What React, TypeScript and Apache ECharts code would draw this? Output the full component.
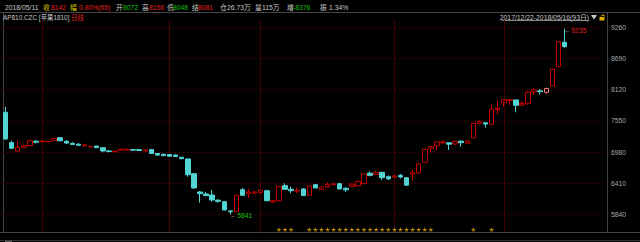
import React, { useEffect, useRef } from 'react';
import * as echarts from 'echarts';

// ---------- data ----------
const dates = [
  '2017/12/22', '2017/12/25', '2017/12/26', '2017/12/27', '2017/12/28', '2017/12/29',
  '2018/01/02', '2018/01/03', '2018/01/04', '2018/01/05', '2018/01/08', '2018/01/09', '2018/01/10',
  '2018/01/11', '2018/01/12', '2018/01/15', '2018/01/16', '2018/01/17', '2018/01/18', '2018/01/19',
  '2018/01/22', '2018/01/23', '2018/01/24', '2018/01/25', '2018/01/26', '2018/01/29', '2018/01/30',
  '2018/02/01', '2018/02/02', '2018/02/05', '2018/02/06', '2018/02/07', '2018/02/08', '2018/02/09',
  '2018/02/12', '2018/02/13', '2018/02/14', '2018/02/22', '2018/02/23', '2018/02/26', '2018/02/27',
  '2018/02/28',
  '2018/03/01', '2018/03/02', '2018/03/05', '2018/03/06', '2018/03/07', '2018/03/08', '2018/03/09',
  '2018/03/12', '2018/03/13', '2018/03/14', '2018/03/15', '2018/03/16', '2018/03/19', '2018/03/20',
  '2018/03/21', '2018/03/22', '2018/03/23', '2018/03/26', '2018/03/27', '2018/03/28', '2018/03/29',
  '2018/03/30',
  '2018/04/02', '2018/04/03', '2018/04/04', '2018/04/09', '2018/04/10', '2018/04/11', '2018/04/12',
  '2018/04/13', '2018/04/16', '2018/04/17', '2018/04/18', '2018/04/19', '2018/04/20', '2018/04/23',
  '2018/04/24', '2018/04/25', '2018/04/26', '2018/04/27',
  '2018/05/02', '2018/05/03', '2018/05/04', '2018/05/07', '2018/05/08', '2018/05/09', '2018/05/10',
  '2018/05/11', '2018/05/14', '2018/05/15', '2018/05/16',
];

const opens = [
  7707, 7152, 7000, 7068, 7097, 7178, 7170, 7168, 7188, 7243,
  7176, 7140, 7125, 7095, 7075, 7090, 7060, 7000, 6985, 7015,
  7020, 7025, 7025, 7000, 7025, 6955, 6940, 6935, 6925, 6885,
  6854, 6585, 6251, 6215, 6196, 6100, 6074, 5905, 5891, 6293,
  6222, 6230, 6240, 6275, 6070, 6092, 6366, 6300, 6270, 6306,
  6191, 6385, 6300, 6340, 6385, 6403, 6318, 6355, 6365, 6403,
  6595, 6570, 6610, 6530, 6520, 6555, 6512, 6575, 6598, 6794,
  7050, 7097, 7150, 7150, 7128, 7180, 7140, 7238, 7505, 7515,
  7488, 7755, 7890, 7920, 7932, 7840, 7871, 8080, 8100, 8072,
  8188, 8540, 8986,
];
const closes = [
  7219, 7049, 7068, 7097, 7188, 7160, 7180, 7175, 7232, 7188,
  7145, 7120, 7105, 7110, 7085, 7060, 7000, 6990, 6995, 7030,
  7030, 7015, 7010, 7020, 6955, 6925, 6915, 6905, 6900, 6860,
  6567, 6324, 6220, 6185, 6105, 6080, 5922, 5890, 6191, 6191,
  6251, 6250, 6285, 6092, 6090, 6348, 6300, 6275, 6280, 6185,
  6360, 6325, 6340, 6390, 6400, 6306, 6290, 6395, 6440, 6580,
  6555, 6610, 6512, 6490, 6545, 6525, 6375, 6600, 6762, 7031,
  7080, 7164, 7165, 7125, 7175, 7152, 7180, 7506, 7540, 7492,
  7762, 7780, 7937, 7937, 7835, 7870, 8072, 8115, 8085, 8142,
  8493, 8997, 8906,
];
const lows = [
  7210, 7040, 6995, 7060, 7090, 7140, 7165, 7160, 7180, 7180,
  7130, 7110, 7090, 7085, 7070, 7055, 6976, 6975, 6980, 7010,
  7010, 7010, 7005, 6995, 6950, 6915, 6905, 6895, 6890, 6850,
  6530, 6315, 6056, 6175, 6075, 6056, 5915, 5841, 5885, 6185,
  6140, 6220, 6235, 6080, 6050, 6085, 6295, 6228, 6230, 6180,
  6185, 6320, 6290, 6330, 6375, 6300, 6250, 6345, 6355, 6395,
  6535, 6560, 6470, 6470, 6510, 6500, 6365, 6457, 6590, 6785,
  6976, 7013, 7130, 7018, 7110, 7078, 7130, 7230, 7490, 7426,
  7480, 7671, 7804, 7840, 7707, 7820, 7840, 8023, 8029, 8048,
  8180, 8535, 8887,
];
const highs = [
  7804, 7188, 7195, 7110, 7195, 7195, 7195, 7180, 7240, 7250,
  7195, 7160, 7140, 7115, 7090, 7095, 7065, 7020, 7000, 7040,
  7045, 7030, 7030, 7025, 7030, 6960, 6950, 6940, 6940, 6890,
  6860, 6590, 6269, 6255, 6287, 6123, 6085, 5920, 6200, 6323,
  6310, 6270, 6290, 6290, 6095, 6355, 6410, 6348, 6335, 6320,
  6370, 6395, 6345, 6428, 6420, 6410, 6335, 6410, 6460, 6590,
  6625, 6635, 6620, 6555, 6560, 6580, 6520, 6660, 6770, 7040,
  7085, 7170, 7200, 7155, 7195, 7190, 7200, 7515, 7560, 7520,
  7853, 7919, 7945, 7945, 7940, 7913, 8090, 8157, 8130, 8156,
  8500, 9005, 9235,
];

const yTicks = [5840, 6410, 6980, 7550, 8120, 8690, 9260];
const monthStarts = ['2018/01/02', '2018/02/01', '2018/03/01', '2018/04/02', '2018/05/02'];
const starDates = [
  '2018/03/06', '2018/03/07', '2018/03/08',
  '2018/03/13', '2018/03/14', '2018/03/15', '2018/03/16', '2018/03/19', '2018/03/20', '2018/03/21',
  '2018/03/22', '2018/03/23', '2018/03/26', '2018/03/27', '2018/03/28', '2018/03/29', '2018/03/30',
  '2018/04/02', '2018/04/03', '2018/04/04', '2018/04/09', '2018/04/10', '2018/04/11', '2018/04/12',
  '2018/04/23', '2018/04/26',
];

const selectedDate = '2018/05/11';
const settlePrice = '8081';
const changeText = '0.80%(65)';
const openInterest = '26.73万';
const volumeText = '115万';
const oiChange = '-8376';
const amplitude = '1.34%';
const symbolText = 'AP810.CZC [苹果1810]';
const periodText = '日线';
const rangeText = '2017/12/22-2018/05/16(93日)';

// ---------- styles ----------
const FONT = '"Liberation Sans", "Noto Sans CJK SC", sans-serif';
const RED = '#c80000';
const CYAN = '#52d4d4';
const GRID_RED = '#420000';
const FRAME = '#444444';
const TXT = '#c8c8c8';
const YEL = '#d8c000';
const TRED = '#e02020';
const TGREEN = '#10c010';
const STAR = 'path://M50,0 L61,35 L98,35 L68,57 L79,91 L50,70 L21,91 L32,57 L2,35 L39,35 Z';

export default function App() {
  const ref = useRef<HTMLDivElement>(null);

  useEffect(() => {
    if (!ref.current) return;
    const chart = echarts.init(ref.current, undefined, { renderer: 'svg' });

    const sel = dates.indexOf(selectedDate);
    let hi = 0;
    let lo = 0;
    highs.forEach((v, i) => { if (v > highs[hi]) hi = i; });
    lows.forEach((v, i) => { if (v < lows[lo]) lo = i; });

    const candleData = dates.map((d, i) => {
      const v = [opens[i], closes[i], lows[i], highs[i]];
      if (i === sel) {
        return { value: v, itemStyle: { borderColor: '#ff7a7a', borderColor0: '#ff7a7a', color: '#000' } };
      }
      return v;
    });

    const headerItems: [number, string, string][] = [
      [5, dates[sel], TXT],
      [43, '收', YEL], [51, String(closes[sel]), TRED],
      [70, '幅', YEL], [79, changeText, TRED],
      [116, '开', TXT], [123, String(opens[sel]), TGREEN],
      [142, '高', TXT], [149, String(highs[sel]), TRED],
      [167, '低', TXT], [173, String(lows[sel]), TGREEN],
      [192, '结', TXT], [198, settlePrice, TRED],
      [220, '仓', TXT], [227, openInterest, TXT],
      [255, '量', TXT], [262, volumeText, TXT],
      [287, '增', TXT], [293, oiChange, TGREEN],
      [320, '振', TXT], [329, amplitude, TXT],
    ];

    const textStyle = (fill: string) => ({ fill, font: `6.8px ${FONT}` });

    const graphic: any[] = [
      // frame lines
      { type: 'line', shape: { x1: 0, y1: 12.5, x2: 640, y2: 12.5 }, style: { stroke: FRAME, lineWidth: 1 }, silent: true },
      { type: 'line', shape: { x1: 3.5, y1: 13, x2: 3.5, y2: 232 }, style: { stroke: FRAME, lineWidth: 1 }, silent: true },
      { type: 'line', shape: { x1: 607.5, y1: 13, x2: 607.5, y2: 232 }, style: { stroke: FRAME, lineWidth: 1 }, silent: true },
      { type: 'line', shape: { x1: 0, y1: 232.5, x2: 640, y2: 232.5 }, style: { stroke: FRAME, lineWidth: 1 }, silent: true },
      { type: 'line', shape: { x1: 0, y1: 240.5, x2: 640, y2: 240.5 }, style: { stroke: '#333', lineWidth: 1 }, silent: true },
      { type: 'rect', shape: { x: 5, y: 240.5, width: 7, height: 2 }, style: { fill: '#555' }, silent: true },
      // header
      ...headerItems.map(([x, t, c]) => ({
        type: 'text', x, y: 7.3, silent: true,
        style: { text: t, ...textStyle(c), verticalAlign: 'middle', textAlign: 'left' },
      })),
      {
        type: 'text', x: 3, y: 17.5, silent: true,
        style: {
          text: `{a|${symbolText}} {b|${periodText}}`,
          font: `6.4px ${FONT}`,
          verticalAlign: 'middle',
          rich: {
            a: { fill: TXT, font: `6.4px ${FONT}` },
            b: { fill: TRED, font: `6.4px ${FONT}` },
          },
        },
      },
      { type: 'text', x: 589, y: 17, silent: true, style: { text: rangeText, ...textStyle(TXT), verticalAlign: 'middle', textAlign: 'right' } },
      { type: 'line', shape: { x1: 502, y1: 20.5, x2: 589, y2: 20.5 }, style: { stroke: '#aaa', lineWidth: 0.8 }, silent: true },
      { type: 'polygon', shape: { points: [[591, 15], [597, 15], [594, 19.5]] }, style: { fill: '#c8c8c8' }, silent: true },
      { type: 'rect', shape: { x: 599.5, y: 17, width: 5, height: 3.5 }, style: { fill: '#e0b000' }, silent: true },
      { type: 'arc', shape: { cx: 603, cy: 16.5, r: 1.6, startAngle: Math.PI, endAngle: Math.PI * 2 }, style: { stroke: '#e0b000', lineWidth: 1, fill: 'none' }, silent: true },
    ];

    const option: any = {
      animation: false,
      backgroundColor: '#000',
      textStyle: { fontFamily: FONT },
      grid: [
        { left: 2.5, top: 20, width: 601.5, height: 212 },
        { left: 2.5, top: 226, width: 601.5, height: 7 },
      ],
      xAxis: [
        {
          type: 'category', data: dates, max: 98, boundaryGap: true,
          axisLine: { show: false }, axisTick: { show: false }, axisLabel: { show: false }, splitLine: { show: false },
        },
        {
          type: 'category', gridIndex: 1, data: dates, max: 98, boundaryGap: true,
          axisLine: { show: false }, axisTick: { show: false }, axisLabel: { show: false }, splitLine: { show: false },
        },
      ],
      yAxis: [
        {
          type: 'value', min: 5520, max: 9393, position: 'right',
          axisLine: { show: false }, axisTick: { show: false }, axisLabel: { show: false }, splitLine: { show: false },
        },
        { type: 'value', gridIndex: 1, min: -1, max: 1, show: false },
      ],
      graphic,
      series: [
        {
          type: 'candlestick',
          data: candleData,
          barWidth: 5,
          z: 3,
          itemStyle: { color: '#000', color0: CYAN, borderColor: RED, borderColor0: CYAN, borderWidth: 1 },
          markLine: {
            silent: true,
            symbol: ['none', 'none'],
            animation: false,
            z: 1,
            data: [
              ...yTicks.map((v) => ({
                yAxis: v,
                lineStyle: { color: GRID_RED, type: [2, 2], width: 1 },
                label: {
                  show: true, position: 'end', formatter: String(v), color: '#a8a8a8',
                  fontSize: 6.8, fontFamily: FONT, distance: 7,
                },
              })),
              ...monthStarts.map((d) => ({
                xAxis: d,
                lineStyle: { color: GRID_RED, type: 'solid', width: 1 },
                label: { show: false },
              })),
            ],
          },
          markPoint: {
            symbol: 'circle',
            symbolSize: 0,
            animation: false,
            data: [
              {
                coord: [dates[hi], highs[hi]], value: highs[hi],
                label: {
                  show: true, position: 'right', distance: 0, offset: [0, 2],
                  formatter: `{a|←}{b|${highs[hi]}}`,
                  rich: { a: { color: '#a0a0a0', fontSize: 6.8 }, b: { color: TRED, fontSize: 6.8, fontFamily: FONT } },
                },
              },
              {
                coord: [dates[lo], lows[lo]], value: lows[lo],
                label: {
                  show: true, position: 'right', distance: 0, offset: [0, 1],
                  formatter: `{a|←}{b|${lows[lo]}}`,
                  rich: { a: { color: '#a0a0a0', fontSize: 6.8 }, b: { color: TGREEN, fontSize: 6.8, fontFamily: FONT } },
                },
              },
            ],
          },
        },
        {
          type: 'scatter',
          xAxisIndex: 1,
          yAxisIndex: 1,
          data: starDates.map((d) => [d, 0]),
          symbol: STAR,
          symbolSize: 5,
          itemStyle: { color: '#e8a800' },
          silent: true,
        },
      ],
    };

    chart.setOption(option);
    return () => chart.dispose();
  }, []);

  return (
    <div
      ref={ref}
      style={{ position: 'fixed', left: 0, top: 0, width: 640, height: 242, background: '#000' }}
    />
  );
}
